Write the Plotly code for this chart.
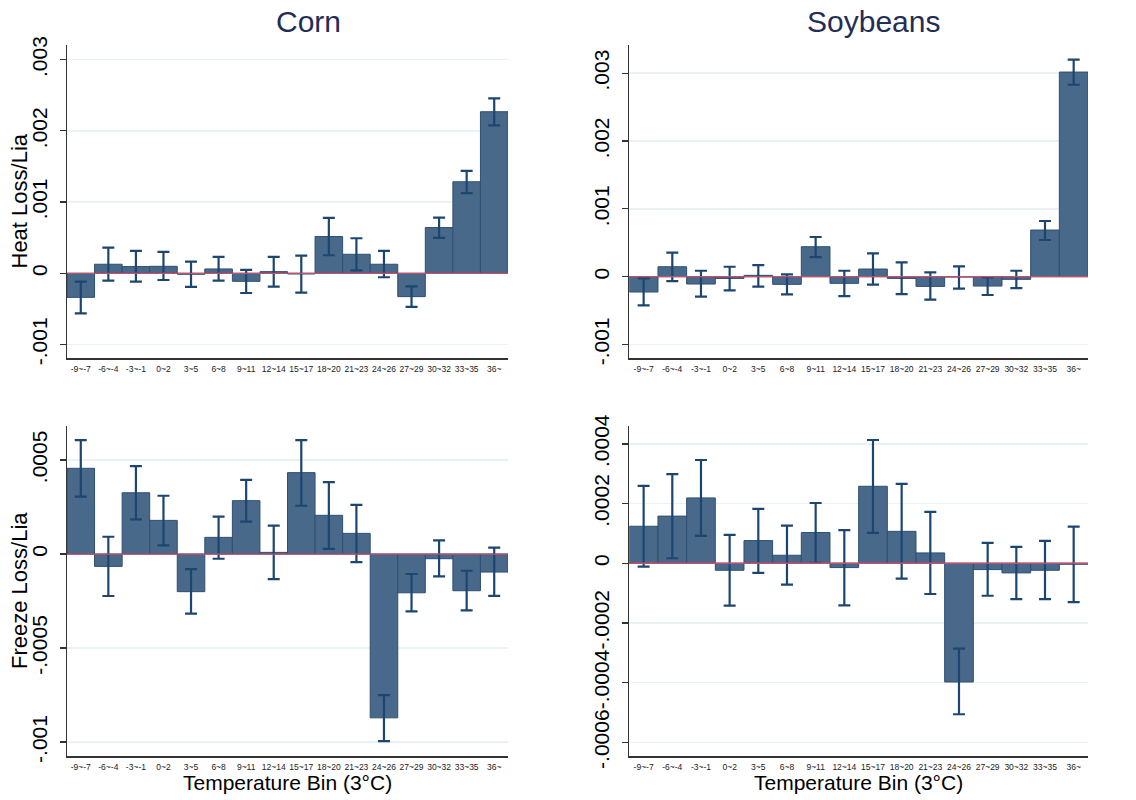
import plotly.graph_objects as go

bins = ["-9~-7", "-6~-4", "-3~-1", "0~2", "3~5", "6~8", "9~11", "12~14",
        "15~17", "18~20", "21~23", "24~26", "27~29", "30~32", "33~35", "36~"]

corn_heat = [-0.000338, 0.000127, 0.000094, 0.000098, -0.000014, 0.000061, -0.000113, 0.000023,
             -0.000010, 0.000516, 0.000267, 0.000127, -0.000328, 0.000642, 0.001285, 0.002269]
corn_heat_hi = [-0.000117, 0.000361, 0.000314, 0.000300, 0.000164, 0.000230, 0.000047, 0.000230,
                0.000248, 0.000778, 0.000492, 0.000314, -0.000183, 0.000783, 0.001439, 0.002457]
corn_heat_lo = [-0.000563, -0.000103, -0.000117, -0.000094, -0.000192, -0.000103, -0.000277, -0.000188,
                -0.000272, 0.000253, 0.000042, -0.000056, -0.000473, 0.000497, 0.001125, 0.002077]

soy_heat = [-0.000226, 0.000147, -0.000108, -0.000025, 0.000020, -0.000113, 0.000442, -0.000098,
            0.000113, -0.000025, -0.000143, -0.000005, -0.000138, -0.000039, 0.000688, 0.003017]
soy_heat_hi = [-0.000025, 0.000354, 0.000088, 0.000147, 0.000172, 0.000034, 0.000585, 0.000088,
               0.000344, 0.000211, 0.000064, 0.000152, -0.000010, 0.000088, 0.000821, 0.003199]
soy_heat_lo = [-0.000423, -0.000064, -0.000295, -0.000201, -0.000147, -0.000260, 0.000290, -0.000285,
               -0.000118, -0.000256, -0.000339, -0.000177, -0.000270, -0.000167, 0.000541, 0.002830]

corn_freeze = [0.000456, -0.0000656, 0.000326, 0.000179, -0.000200, 0.0000887, 0.000284, 0.0000089,
               0.000433, 0.000206, 0.000110, -0.000871, -0.000206, -0.0000248, -0.000195, -0.0000957]
corn_freeze_hi = [0.000606, 0.000092, 0.000468, 0.000310, -0.000080, 0.000199, 0.000394, 0.000151,
                  0.000606, 0.000383, 0.000261, -0.000750, -0.000106, 0.0000727, -0.0000887, 0.0000337]
corn_freeze_lo = [0.000305, -0.000223, 0.000184, 0.000046, -0.000317, -0.000025, 0.000172, -0.000133,
                  0.000257, 0.000028, -0.000043, -0.000995, -0.000305, -0.000119, -0.000300, -0.000222]

soy_freeze = [0.000124, 0.000158, 0.000219, -0.0000235, 0.000076, 0.0000268, 0.000103, -0.0000145,
              0.000258, 0.000107, 0.0000346, -0.000398, -0.0000212, -0.0000324, -0.0000235, -0.0000034]
soy_freeze_hi = [0.000259, 0.000299, 0.000346, 0.000095, 0.000182, 0.000126, 0.000202, 0.000111,
                 0.000413, 0.000266, 0.000172, -0.000286, 0.0000682, 0.0000547, 0.0000749, 0.000123]
soy_freeze_lo = [-0.0000112, 0.0000168, 0.0000916, -0.000142, -0.0000324, -0.0000715, 0.0000011, -0.000141,
                 0.000102, -0.0000514, -0.000103, -0.000506, -0.000109, -0.000120, -0.000120, -0.000130]

heat_ticks = [-0.001, 0, 0.001, 0.002, 0.003]
heat_ticktext = ["-.001", "0", ".001", ".002", ".003"]
corn_freeze_ticks = [-0.001, -0.0005, 0, 0.0005]
corn_freeze_ticktext = ["-.001", "-.0005", "0", ".0005"]
soy_freeze_ticks = [-0.0006, -0.0004, -0.0002, 0, 0.0002, 0.0004]
soy_freeze_ticktext = ["-.0006", "-.0004", "-.0002", "0", ".0002", ".0004"]

titles = ["Corn", "Soybeans"]
ytitles = ["Heat Loss/Lia", "Freeze Loss/Lia"]
xtitle = "Temperature Bin (3°C)"

W, H = 1136, 800


def px_x(x):
    return x / W


def px_y(y):
    return 1 - y / H


BAR = "#49698b"
BAR_EDGE = "#2f4f72"
ERR = "#1c4670"
GRID = "#eaf2f3"
ZERO = "#c4506c"
FONT = "Liberation Sans, Arial, Helvetica, sans-serif"

panels = [
    (corn_heat, corn_heat_hi, corn_heat_lo, (67, 508, 45, 358.3), (-0.001194, 0.003206), heat_ticks, heat_ticktext),
    (soy_heat, soy_heat_hi, soy_heat_lo, (629.3, 1088, 45, 358.3), (-0.001203, 0.003416), heat_ticks, heat_ticktext),
    (corn_freeze, corn_freeze_hi, corn_freeze_lo, (67, 508, 426, 756), (-0.001074, 0.000681), corn_freeze_ticks, corn_freeze_ticktext),
    (soy_freeze, soy_freeze_hi, soy_freeze_lo, (629.3, 1088, 426, 756), (-0.000646, 0.000460), soy_freeze_ticks, soy_freeze_ticktext),
]

fig = go.Figure()
layout = dict(template="none", width=W, height=H,
              margin=dict(l=0, r=0, t=0, b=0, pad=0, autoexpand=False),
              paper_bgcolor="white", plot_bgcolor="white", showlegend=False,
              bargap=0, font=dict(family=FONT, color="black"))
shapes = []
annotations = []

for i, (vals, hi, lo, box, yr, tv, tt) in enumerate(panels):
    n = i + 1
    xa = "x" if n == 1 else f"x{n}"
    ya = "y" if n == 1 else f"y{n}"
    plus = [h - v for h, v in zip(hi, vals)]
    minus = [v - l for v, l in zip(vals, lo)]
    fig.add_trace(go.Bar(
        x=bins, y=vals, xaxis=xa, yaxis=ya, width=1,
        marker=dict(color=BAR, line=dict(color=BAR_EDGE, width=1)),
        error_y=dict(type="data", array=plus, arrayminus=minus, color=ERR,
                     thickness=2.2, width=6),
    ))
    x0, x1, yt, yb = box
    kx = "xaxis" if n == 1 else f"xaxis{n}"
    ky = "yaxis" if n == 1 else f"yaxis{n}"
    layout[kx] = dict(domain=[px_x(x0), px_x(x1)], anchor=ya, range=[-0.5, 15.5], automargin=False,
                      type="category",
                      showgrid=False, zeroline=False, showline=True, linecolor="#333333",
                      linewidth=1.5, ticks="", tickfont=dict(size=8.5, color="#222222"),
                      ticklabelstandoff=2, tickangle=0, fixedrange=True)
    layout[ky] = dict(domain=[px_y(yb), px_y(yt)], anchor=xa, range=list(yr), automargin=False,
                      tickvals=tv, ticktext=tt, tickangle=-90,
                      tickfont=dict(size=21, color="black"),
                      showgrid=True, gridcolor=GRID, gridwidth=1.5, zeroline=False,
                      showline=True, linecolor="#333333", linewidth=1.5,
                      ticks="outside", ticklen=6, tickwidth=1.2, tickcolor="#333333",
                      ticklabelstandoff=4, fixedrange=True)
    shapes.append(dict(type="line", xref=f"{xa} domain", yref=ya, x0=0, x1=1, y0=0, y1=0,
                       line=dict(color=ZERO, width=1.3), layer="above"))


def ann(text, x, y, size, color="black", angle=0):
    return dict(text=text, x=px_x(x), y=px_y(y), xref="paper", yref="paper",
                showarrow=False, textangle=angle, font=dict(size=size, color=color),
                xanchor="center", yanchor="middle")


annotations.append(ann(titles[0], 308, 22, 30, "#1f2d57"))
annotations.append(ann(titles[1], 873, 22, 30, "#1f2d57"))
annotations.append(ann(ytitles[0], 19, 201.5, 22, angle=-90))
annotations.append(ann(ytitles[1], 19, 591, 22, angle=-90))
annotations.append(ann(xtitle, 287.5, 782, 21))
annotations.append(ann(xtitle, 858.5, 782, 21))

layout["shapes"] = shapes
layout["annotations"] = annotations
fig.update_layout(**layout)
# remove the browser's default 8px body margin so the figure sits at the window corner
fig.write_html("out.html", config={"displayModeBar": False, "staticPlot": True},
               post_script="document.body.style.margin='0px';")
